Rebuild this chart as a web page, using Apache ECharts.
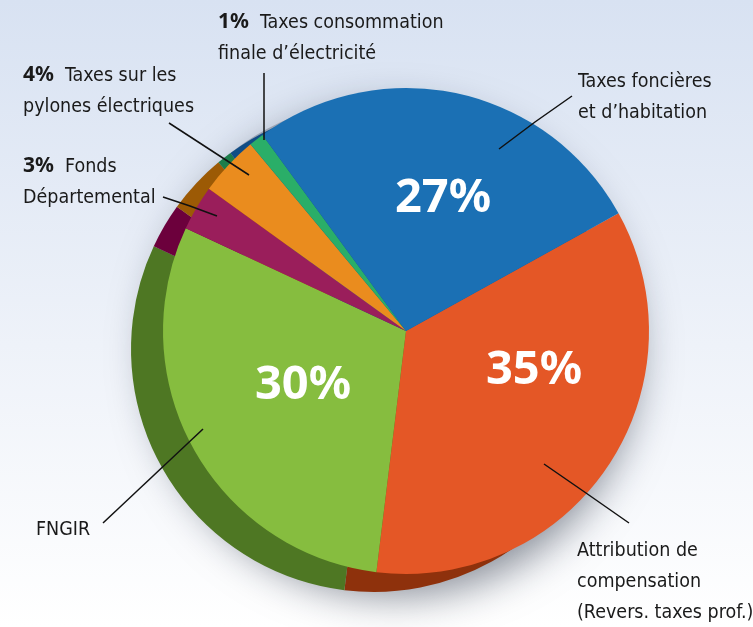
<!DOCTYPE html>
<html>
<head>
<meta charset="utf-8">
<script src="https://cdn.jsdelivr.net/npm/echarts@6/dist/echarts.min.js"></script>
<style>
  html, body { margin: 0; padding: 0; }
  #chart { width: 753px; height: 627px; }
</style>
</head>
<body>
<div id="chart"></div>
<script>
  // parts of the budget, clockwise from the orange slice
  const categories = [
    'Attribution de compensation (Revers. taxes prof.)',
    'FNGIR',
    'Fonds Départemental',
    'Taxes sur les pylones électriques',
    'Taxes consommation finale d’électricité',
    'Taxes foncières et d’habitation'
  ]
  const values = [35, 30, 3, 4, 1, 27]
  const labelTexts = [
    'Attribution de\ncompensation\n(Revers. taxes prof.)',
    'FNGIR',
    'Fonds\nDépartemental',
    'Taxes sur les\npylones électriques',
    'Taxes consommation\nfinale d’électricité',
    'Taxes foncières\net d’habitation'
  ]

  const colors = ['#e45726', '#86bd3f', '#9a1e5b', '#ea8c1e', '#2aae68', '#1b70b4']
  const darkColors = ['#8e310c', '#4e7723', '#6c003c', '#9c5a05', '#1c7d4a', '#104d86']

  const CENTER = [406, 331]
  const DEPTH = [374, 349]
  const R = 243
  const START = 29

  // where the text blocks and their leader lines sit
  const outerLabels = [
    { x: 577, y: 535, line: [[544, 464], [586, 493], [629, 523]] },
    { x: 36, y: 514, line: [[203, 429], [153, 476], [103, 523]] },
    { x: 23, y: 151, line: [[217, 216], [190, 206], [163, 197]] },
    { x: 23, y: 60, line: [[249, 175], [209, 149], [169, 123]] },
    { x: 218, y: 7, line: [[264, 140], [264, 106], [264, 73]] },
    { x: 578, y: 66, line: [[499, 149], [535, 122], [572, 96]] }
  ]
  const innerLabels = [[534, 371], [303, 386], null, null, null, [443, 199]]

  const chart = echarts.init(document.getElementById('chart'))

  const frontData = values.map((v, i) => ({
    name: categories[i],
    value: v,
    itemStyle: { color: colors[i] },
    label: { show: v >= 10 }
  }))
  const depthData = values.map((v, i) => ({
    name: categories[i],
    value: v,
    itemStyle: { color: darkColors[i] }
  }))
  const overlayData = values.map((v, i) => ({
    name: categories[i],
    value: v,
    itemStyle: { color: 'rgba(0,0,0,0)' }
  }))

  const option = {
    animation: false,
    backgroundColor: {
      type: 'linear', x: 0, y: 0, x2: 0, y2: 1,
      colorStops: [
        { offset: 0, color: '#d8e2f2' },
        { offset: 0.55, color: '#eef2f9' },
        { offset: 1, color: '#ffffff' }
      ]
    },
    series: [
      { // soft shadow under the whole disc
        type: 'pie',
        silent: true,
        z: 1,
        center: [DEPTH[0] + 8, DEPTH[1] - 6],
        radius: R,
        label: { show: false },
        labelLine: { show: false },
        itemStyle: {
          color: '#9aa3b3',
          shadowBlur: 40,
          shadowColor: 'rgba(20,30,50,0.5)',
          shadowOffsetX: 12,
          shadowOffsetY: 10
        },
        data: [{ value: 1 }]
      },
      { // dark side of the disc
        type: 'pie',
        silent: true,
        z: 2,
        center: DEPTH,
        radius: R,
        startAngle: START,
        label: { show: false },
        labelLine: { show: false },
        data: depthData
      },
      { // top face with the big percentages
        type: 'pie',
        silent: true,
        z: 3,
        center: CENTER,
        radius: R,
        startAngle: START,
        label: {
          position: 'inside',
          formatter: '{c}%',
          color: '#ffffff',
          fontFamily: 'Noto Sans',
          fontWeight: 'bold',
          fontSize: 47
        },
        labelLine: { show: false },
        labelLayout: function (p) {
          const pos = innerLabels[p.dataIndex]
          if (!pos) return {}
          return { x: pos[0], y: pos[1], align: 'center', verticalAlign: 'middle' }
        },
        data: frontData
      },
      { // invisible copy carrying the outside labels
        type: 'pie',
        silent: true,
        z: 5,
        center: CENTER,
        radius: R,
        startAngle: START,
        avoidLabelOverlap: false,
        label: {
          show: true,
          position: 'outside',
          width: 300,
          color: '#1a1a1a',
          fontFamily: 'DejaVu Sans Condensed, sans-serif',
          fontSize: 19.5,
          lineHeight: 31,
          formatter: function (p) {
            const t = labelTexts[p.dataIndex]
            if (p.value >= 10) return t
            return '{p|' + p.value + '%}  ' + t
          },
          rich: {
            p: {
              fontFamily: 'Noto Sans',
              fontWeight: 'bold',
              fontSize: 21,
              lineHeight: 31,
              color: '#1a1a1a'
            }
          }
        },
        labelLine: {
          show: true,
          lineStyle: { color: '#111111', width: 1.5 }
        },
        labelLayout: function (p) {
          const b = outerLabels[p.dataIndex]
          return {
            x: b.x,
            y: b.y,
            align: 'left',
            verticalAlign: 'top',
            labelLinePoints: b.line
          }
        },
        data: overlayData
      }
    ]
  }

  chart.setOption(option)
</script>
</body>
</html>
